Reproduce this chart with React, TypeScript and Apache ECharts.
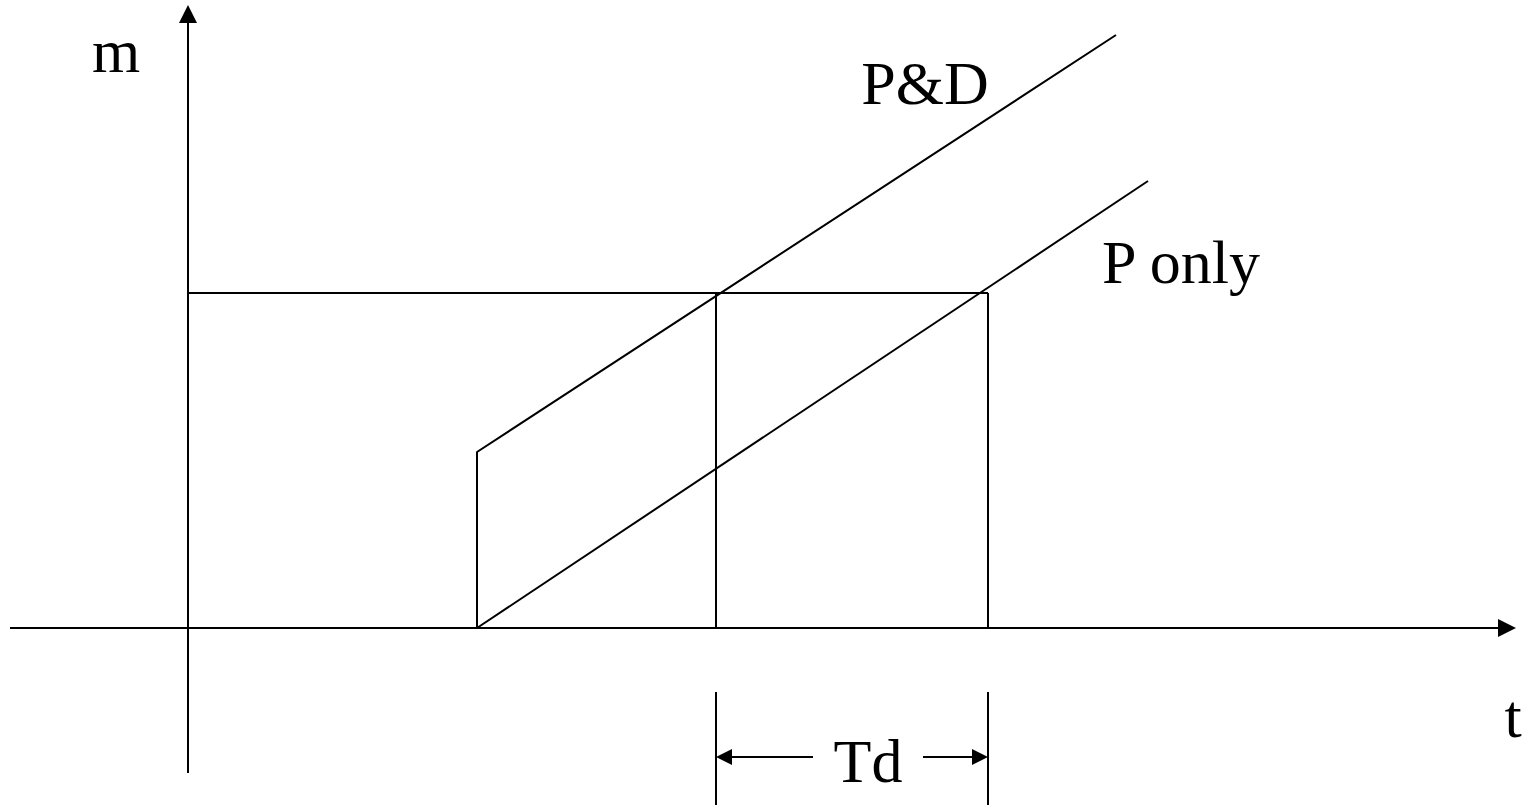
import React, { useEffect, useRef } from "react";
import * as echarts from "echarts";

// Data in diagram units (origin at axis crossing)
const tStart = 2.89; // start of production
const tPD = 5.28; // P&D reaches threshold
const tP = 8.0; // P only reaches threshold
const threshold = 3.35;

const pdLine: [number, number][] = [
  [tStart, 0],
  [tStart, 1.76],
  [9.28, 5.93],
];
const pOnlyLine: [number, number][] = [
  [tStart, 0],
  [9.6, 4.47],
];
const thresholdLine: [number, number][] = [
  [0, threshold],
  [tP, threshold],
];
const dropPD: [number, number][] = [
  [tPD, 0],
  [tPD, threshold],
];
const dropP: [number, number][] = [
  [tP, 0],
  [tP, threshold],
];
const tdLeft: [number, number][] = [
  [tPD, -0.64],
  [tPD, -1.8],
];
const tdRight: [number, number][] = [
  [tP, -0.64],
  [tP, -1.8],
];
const tdArrowY = -1.29;

const labels = [
  { name: "m", value: [-0.72, 5.77] },
  { name: "P&D", value: [7.37, 5.45] },
  { name: "P only", value: [9.93, 3.66] },
  { name: "t", value: [13.25, -0.88] },
  { name: "Td", value: [6.8, -1.33] },
];

const BLACK = "#000000";
const FONT = "'Liberation Serif', 'Times New Roman', serif";

function lineSeries(data: [number, number][], extra: any = {}) {
  return {
    type: "line",
    data,
    symbol: "none",
    silent: true,
    clip: false,
    lineStyle: { color: BLACK, width: 2 },
    ...extra,
  };
}

function arrow(from: [number, number], to: [number, number]) {
  return [{ coord: from }, { coord: to }];
}

function arrowSeries(pairs: [number, number][][], size: number) {
  return {
    type: "line",
    data: [],
    symbol: "none",
    silent: true,
    markLine: {
      silent: true,
      symbol: ["none", "triangle"],
      symbolSize: size,
      label: { show: false },
      itemStyle: { color: BLACK },
      lineStyle: { color: BLACK, width: 2, type: "solid", opacity: 1 },
      data: pairs.map((p) => arrow(p[0], p[1])),
    },
  };
}

export default function App() {
  const ref = useRef<HTMLDivElement>(null);
  useEffect(() => {
    if (!ref.current) return;
    const chart = echarts.init(ref.current, null, { renderer: "svg" });
    chart.setOption({
      animation: false,
      backgroundColor: "#fff",
      grid: { left: 0, right: 0, top: 0, bottom: 0 },
      xAxis: { type: "value", min: -1.88, max: 13.44, show: false },
      yAxis: { type: "value", min: -1.77, max: 6.28, show: false },
      series: [
        arrowSeries(
          [
            [
              [0, -1.45],
              [0, 6.14],
            ],
            [
              [-1.78, 0],
              [13.19, 0],
            ],
          ],
          18
        ),
        arrowSeries(
          [
            [
              [6.25, tdArrowY],
              [5.36, tdArrowY],
            ],
            [
              [7.35, tdArrowY],
              [7.92, tdArrowY],
            ],
          ],
          16
        ),
        lineSeries(thresholdLine),
        lineSeries(dropPD),
        lineSeries(dropP),
        lineSeries(pdLine),
        lineSeries(pOnlyLine),
        lineSeries(tdLeft),
        lineSeries(tdRight),
        {
          type: "scatter",
          data: labels,
          symbolSize: 0,
          silent: true,
          itemStyle: { opacity: 1, color: BLACK },
          label: {
            show: true,
            position: "inside",
            formatter: (p: any) => p.name,
            color: BLACK,
            opacity: 1,
            fontFamily: FONT,
            fontSize: 62,
            align: "center",
            verticalAlign: "middle",
          },
        },
      ],
    });
    return () => chart.dispose();
  }, []);
  return (
    <div
      ref={ref}
      style={{ position: "fixed", left: 0, top: 0, width: 1532, height: 805 }}
    />
  );
}
